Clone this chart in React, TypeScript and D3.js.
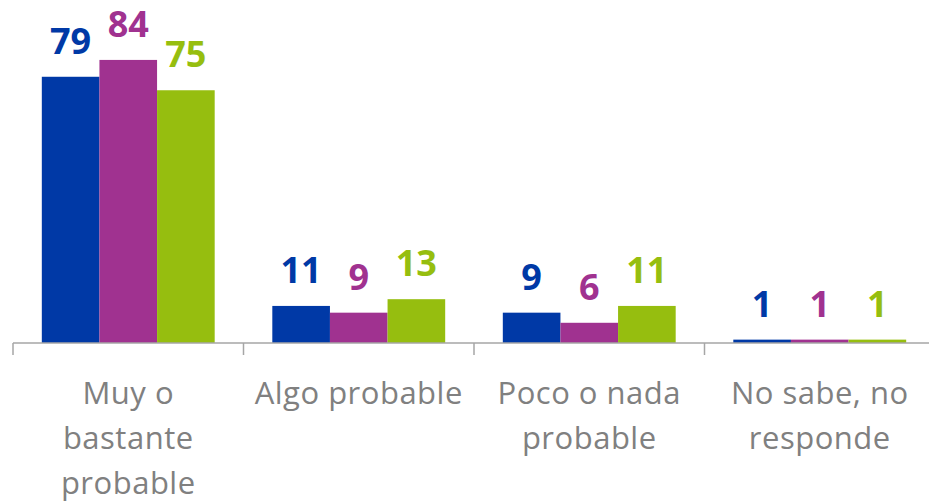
import React from "react";
import * as d3 from "d3";

const categories = ["Muy o bastante probable", "Algo probable", "Poco o nada probable", "No sabe, no responde"];
const categoryLines = [["Muy o", "bastante", "probable"], ["Algo probable"], ["Poco o nada", "probable"], ["No sabe, no", "responde"]];
const seriesNames = ["s1", "s2", "s3"];
const series1 = [79, 11, 9, 1];
const series2 = [84, 9, 6, 1];
const series3 = [75, 13, 11, 1];
const colors = ["#0039a6", "#a03290", "#96be0f"];

export default function App() {
  const W = 929, H = 502;
  const baseY = 343;
  const x = d3.scaleBand<string>().domain(categories).range([13, 935]).paddingInner(0.25).paddingOuter(0.125);
  const xs = d3.scaleBand<string>().domain(seriesNames).range([0, x.bandwidth()]);
  const y = d3.scaleLinear().domain([0, 100]).range([baseY, baseY - 337]);
  const values = [series1, series2, series3];
  const step = x.step();
  const ticks = d3.range(categories.length + 1).map((i) => 13 + i * step);
  return (
    <svg width={W} height={H} style={{ position: "absolute", left: 0, top: 0 }}>
      <rect width={W} height={H} fill="#fff" />
      {categories.map((c, ci) => (
        <g key={c}>
          {seriesNames.map((s, si) => {
            const v = values[si][ci];
            const bx = (x(c) as number) + (xs(s) as number);
            return (
              <g key={s}>
                <rect x={bx} y={y(v)} width={xs.bandwidth()} height={baseY - y(v)} fill={colors[si]} />
                <text x={bx + xs.bandwidth() / 2} y={y(v) - 23} textAnchor="middle" fontFamily="'Open Sans', sans-serif" fontWeight="bold" fontSize={36} fill={colors[si]}>{v}</text>
              </g>
            );
          })}
          {categoryLines[ci].map((ln, li) => (
            <text key={li} x={(x(c) as number) + x.bandwidth() / 2} y={404 + li * 45} textAnchor="middle" fontFamily="'Open Sans', sans-serif" fontSize={31} letterSpacing={0.5} fill="#808080">{ln}</text>
          ))}
        </g>
      ))}
      <line x1={13} x2={935} y1={baseY} y2={baseY} stroke="#a6a6a6" strokeWidth={1.5} />
      {ticks.map((t, i) => (
        <line key={i} x1={t} x2={t} y1={baseY} y2={355} stroke="#a6a6a6" strokeWidth={1.5} />
      ))}
    </svg>
  );
}
